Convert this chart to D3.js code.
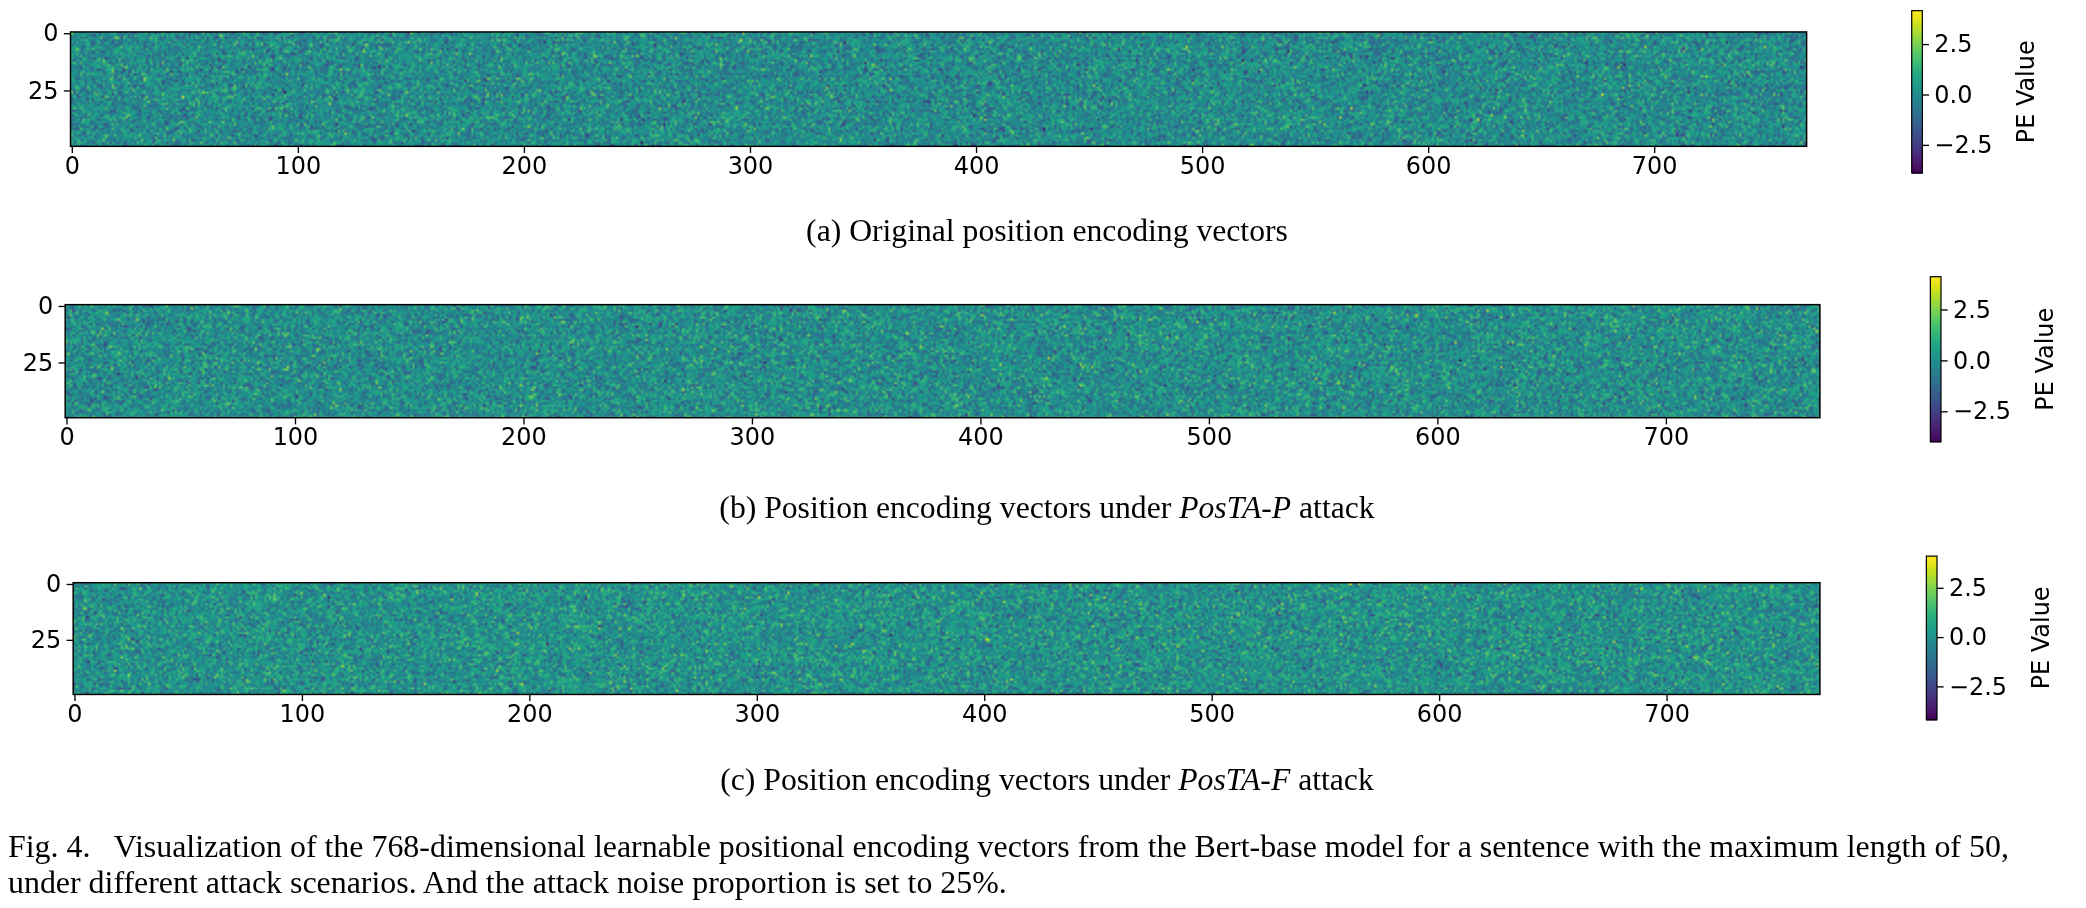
<!DOCTYPE html>
<html><head><meta charset="utf-8">
<script src="https://cdn.jsdelivr.net/npm/d3@7"></script>
<style>body{margin:0;background:#fff;width:2086px;height:908px;overflow:hidden;position:relative}
canvas{position:absolute}svg{position:absolute;left:0;top:0}</style>
</head><body>
<svg id="s" width="2086" height="908"></svg>
<script>
// Dimensions of the encoding matrix (positions x embedding dims)
const nRows = 50, nCols = 768;
const xTicks = [0,100,200,300,400,500,600,700];
const yTicks = [0,25];
const cbTicks = [2.5,0.0,-2.5];
const panelNames = ["a","b","c"];
const colorMin = [-3.9,-4.0,-4.2];
const colorMax = [4.15,4.1,4.1];
const noiseSd = [0.9,0.9,0.9];
const seeds = [11,23,37];
const captions = [
 [{t:"(a) Original position encoding vectors"}],
 [{t:"(b) Position encoding vectors under "},{t:"PosTA-P",i:1},{t:" attack"}],
 [{t:"(c) Position encoding vectors under "},{t:"PosTA-F",i:1},{t:" attack"}]];
const figLines = ["Fig. 4.   Visualization of the 768-dimensional learnable positional encoding vectors from the Bert-base model for a sentence with the maximum length of 50,",
 "under different attack scenarios. And the attack noise proportion is set to 25%."];
// NOTE: individual cell values of the reference are visually unreadable noise; a seeded
// normal texture stands in for them (values with the same spread as the picture).
const values = panelNames.map((_,p)=>{const g=d3.randomNormal.source(d3.randomLcg(seeds[p]/100))(0,noiseSd[p]);
  return d3.range(nRows).map(()=>d3.range(nCols).map(()=>g()));});

const k = 2086/1568;
const layout=[
 {x0:53,x1:1358,y0:24,y1:110,cx:1437,cy0:8,cy1:130,cap:181},
 {x0:49,x1:1368,y0:229,y1:314,cx:1451,cy0:208,cy1:332,cap:389},
 {x0:55,x1:1368,y0:438,y1:522,cx:1448,cy0:418,cy1:541,cap:594}];
const svg=d3.select("#s").append("g").attr("transform",`scale(${k})`);
const font="DejaVu Sans";
layout.forEach((L,p)=>{
  const col=d3.scaleSequential(d3.interpolateViridis).domain([colorMin[p],colorMax[p]]);
  const cv=document.createElement("canvas");cv.width=nCols;cv.height=nRows;
  Object.assign(cv.style,{left:(L.x0*k)+"px",top:(L.y0*k)+"px",width:((L.x1-L.x0)*k)+"px",height:((L.y1-L.y0)*k)+"px"});
  document.body.insertBefore(cv,document.getElementById("s"));
  const ctx=cv.getContext("2d");const im=ctx.createImageData(nCols,nRows);
  values[p].forEach((row,r)=>row.forEach((v,c)=>{const q=d3.rgb(col(v));const i=(r*nCols+c)*4;
    im.data[i]=q.r;im.data[i+1]=q.g;im.data[i+2]=q.b;im.data[i+3]=255;}));
  ctx.putImageData(im,0,0);
  const x=d3.scaleLinear().domain([-0.5,nCols-0.5]).range([L.x0,L.x1]);
  const y=d3.scaleLinear().domain([-0.5,nRows-0.5]).range([L.y0,L.y1]);
  svg.append("rect").attr("x",L.x0).attr("y",L.y0).attr("width",L.x1-L.x0).attr("height",L.y1-L.y0).attr("fill","none").attr("stroke","#000").attr("stroke-width",1.1);
  const gx=svg.append("g").attr("transform",`translate(0,${L.y1})`).call(d3.axisBottom(x).tickValues(xTicks).tickSize(5).tickPadding(3));
  const gy=svg.append("g").attr("transform",`translate(${L.x0},0)`).call(d3.axisLeft(y).tickValues(yTicks).tickSize(5).tickPadding(4));
  [gx,gy].forEach(g=>{g.select(".domain").remove();g.selectAll("text").attr("font-family",font).attr("font-size",18).attr("fill","#000");g.selectAll("line").attr("stroke","#000").attr("stroke-width",1);});
  const cs=d3.scaleLinear().domain([colorMin[p],colorMax[p]]).range([L.cy1,L.cy0]);
  const n=60,h=(L.cy1-L.cy0)/n;
  d3.range(n).forEach(i=>svg.append("rect").attr("x",L.cx).attr("y",L.cy1-(i+1)*h).attr("width",8).attr("height",h+0.6).attr("fill",col(colorMin[p]+(i+0.5)/n*(colorMax[p]-colorMin[p]))));
  svg.append("rect").attr("x",L.cx).attr("y",L.cy0).attr("width",8).attr("height",L.cy1-L.cy0).attr("fill","none").attr("stroke","#000").attr("stroke-width",0.9);
  const gc=svg.append("g").attr("transform",`translate(${L.cx+8},0)`).call(d3.axisRight(cs).tickValues(cbTicks).tickSize(5).tickPadding(4));
  gc.select(".domain").remove();gc.selectAll("text").attr("font-family",font).attr("font-size",18).attr("fill","#000").text(d=>d3.format(".1f")(d).replace("-","\u2212"));
  gc.selectAll("line").attr("stroke","#000");
  svg.append("text").attr("transform",`translate(${L.cx+92},${(L.cy0+L.cy1)/2}) rotate(-90)`).attr("text-anchor","middle").attr("font-family",font).attr("font-size",18).text("PE Value");
  const t=svg.append("text").attr("x",787).attr("y",L.cap).attr("text-anchor","middle").attr("font-family","Liberation Serif").attr("font-size",23.8);
  captions[p].forEach(s=>t.append("tspan").attr("font-style",s.i?"italic":null).text(s.t));
});
figLines.forEach((s,i)=>svg.append("text").attr("x",6).attr("y",644+i*27).attr("font-family","Liberation Serif").attr("font-size",24).attr("xml:space","preserve").text(s));
</script></body></html>
